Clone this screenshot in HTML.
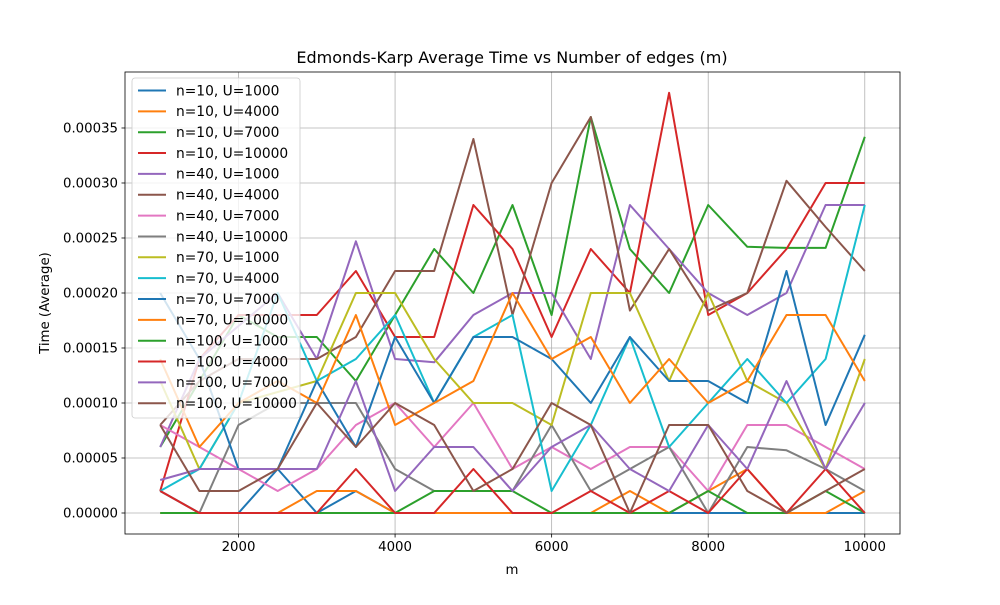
<!DOCTYPE html>
<html><head><meta charset="utf-8">
<style>
html,body{margin:0;padding:0;background:#fff;}
svg text{font-family:"DejaVu Sans","Liberation Sans",sans-serif;}
</style></head>
<body>
<svg id="chart" width="1000" height="600" xmlns="http://www.w3.org/2000/svg">
<rect width="1000" height="600" fill="#fff"/>
<g id="grid"></g>
<g id="series"></g>
<rect x="125" y="72" width="775" height="462" fill="none" stroke="#000" stroke-width="0.8"/>
<g id="axes"></g>
<text x="512" y="63" text-anchor="middle" font-size="16">Edmonds-Karp Average Time vs Number of edges (m)</text>
<text x="512" y="574" text-anchor="middle" font-size="13.3">m</text>
<text x="49" y="303" text-anchor="middle" font-size="13.3" transform="rotate(-90 49 303)">Time (Average)</text>
<g id="legend"></g>
</svg>
<script>
const xValues = [1000,1500,2000,2500,3000,3500,4000,4500,5000,5500,6000,6500,7000,7500,8000,8500,9000,9500,10000];
const seriesNames = ["n=10, U=1000","n=10, U=4000","n=10, U=7000","n=10, U=10000","n=40, U=1000","n=40, U=4000","n=40, U=7000","n=40, U=10000","n=70, U=1000","n=70, U=4000","n=70, U=7000","n=70, U=10000","n=100, U=1000","n=100, U=4000","n=100, U=7000","n=100, U=10000"];
const s0 = [2,0,0,4,0,2,0,0,0,0,0,0,0,0,0,0,0,0,0];
const s1 = [0,0,0,0,2,2,0,0,0,0,0,0,2,0,2,4,0,0,2];
const s2 = [6,12,18,16,16,12,18,24,20,28,18,36,24,20,28,24.2,24.1,24.1,34.2];
const s3 = [2,14,18,18,18,22,16,16,28,24,16,24,20,38.2,18,20,24,30,30];
const s4 = [6,14,17,20,14,24.7,14,13.7,18,20,20,14,28,24,20,18,20,28,28];
const s5 = [8,12,14,14,14,16,22,22,34,18,30,36,18.4,24,18.4,20,30.2,26,22];
const s6 = [8,6,4,2,4,8,10,6,10,4,6,4,6,6,2,8,8,6,4];
const s7 = [2,0,8,10,10,10,4,2,2,2,8,2,4,6,0,6,5.7,4,2];
const s8 = [12,4,10,11,12,20,20,14,10,10,8,20,20,12,20,12,10,4,14];
const s9 = [2,4,10,20,12,14,18,10,16,18,2,8,16,6,10,14,10,14,28];
const s10 = [20,14,4,4,12,6,16,10,16,16,14,10,16,12,12,10,22,8,16.2];
const s11 = [14,6,10,12,10,18,8,10,12,20,14,16,10,14,10,12,18,18,12];
const s12 = [0,0,0,0,0,0,0,2,2,2,0,0,0,0,2,0,0,2,0];
const s13 = [2,0,0,0,0,4,0,0,4,0,0,2,0,2,0,4,0,4,0];
const s14 = [3,4,4,4,4,12,2,6,6,2,6,8,4,2,8,4,12,4,10];
const s15 = [8,2,2,4,10,6,10,8,2,4,10,8,0,8,8,2,0,2,4];
const seriesScale = 1e-5;
const xTicks = [2000,4000,6000,8000,10000];
const yTicks = [0,0.00005,0.0001,0.00015,0.0002,0.00025,0.0003,0.00035];
const yTickLabels = ["0.00000","0.00005","0.00010","0.00015","0.00020","0.00025","0.00030","0.00035"];

const allSeries=[s0,s1,s2,s3,s4,s5,s6,s7,s8,s9,s10,s11,s12,s13,s14,s15];
const colors=["#1f77b4","#ff7f0e","#2ca02c","#d62728","#9467bd","#8c564b","#e377c2","#7f7f7f","#bcbd22","#17becf"];
const L=125,R=900,T=72,B=534, xmin=550,xmax=10450, ymin=-1.909e-5, ymax=4.009e-4;
const X=v=>L+(v-xmin)/(xmax-xmin)*(R-L);
const Y=v=>B-(v-ymin)/(ymax-ymin)*(B-T);
const NS="http://www.w3.org/2000/svg";
function mk(tag,attrs,parent){const e=document.createElementNS(NS,tag);for(const k in attrs)e.setAttribute(k,attrs[k]);parent.appendChild(e);return e;}
const grid=document.getElementById('grid'),axes=document.getElementById('axes');
xTicks.forEach(t=>{
  const g=mk('line',{x1:X(t),x2:X(t),y1:T,y2:B,stroke:'#b0b0b0','stroke-width':0.8},grid);
  
  
  const tk=mk('line',{x1:X(t),x2:X(t),y1:B,y2:B+3.5,stroke:'#000','stroke-width':0.8},axes);
  
  
  const tx=mk('text',{x:X(t),y:B+17,'text-anchor':'middle','font-size':13.3},axes);
  
  
  tx.textContent=t;
});
yTicks.forEach((t,i)=>{
  const g=mk('line',{x1:L,x2:R,y1:Y(t),y2:Y(t),stroke:'#b0b0b0','stroke-width':0.8},grid);
  
  
  const tk=mk('line',{x1:L-3.5,x2:L,y1:Y(t),y2:Y(t),stroke:'#000','stroke-width':0.8},axes);
  
  
  const tx=mk('text',{x:L-7,y:Y(t)+4.5,'text-anchor':'end','font-size':13.3},axes);
  
  
  tx.textContent=yTickLabels[i];
});
const sg=document.getElementById('series');
allSeries.forEach((s,i)=>{
  const pts=s.map((v,j)=>X(xValues[j]).toFixed(1)+','+Y(v*seriesScale).toFixed(1)).join(' ');
  const p=mk('polyline',{points:pts,fill:'none',stroke:colors[i%10],'stroke-width':2,'stroke-linejoin':'round'},sg);
  
  
});
const lg=document.getElementById('legend');
const box=mk('rect',{x:132,y:78,width:168,height:340,rx:3,fill:'#fff','fill-opacity':0.8,stroke:'#ccc','stroke-width':0.8},lg);


seriesNames.forEach((n,i)=>{
  const y=90.5+i*20.85;
  const ln=mk('line',{x1:138,x2:166,y1:y,y2:y,stroke:colors[i%10],'stroke-width':2},lg);
  
  
  const tx=mk('text',{x:176,y:y+4.8,'font-size':13.8},lg);
  
  
  tx.textContent=n;
});
</script>
</body></html>
